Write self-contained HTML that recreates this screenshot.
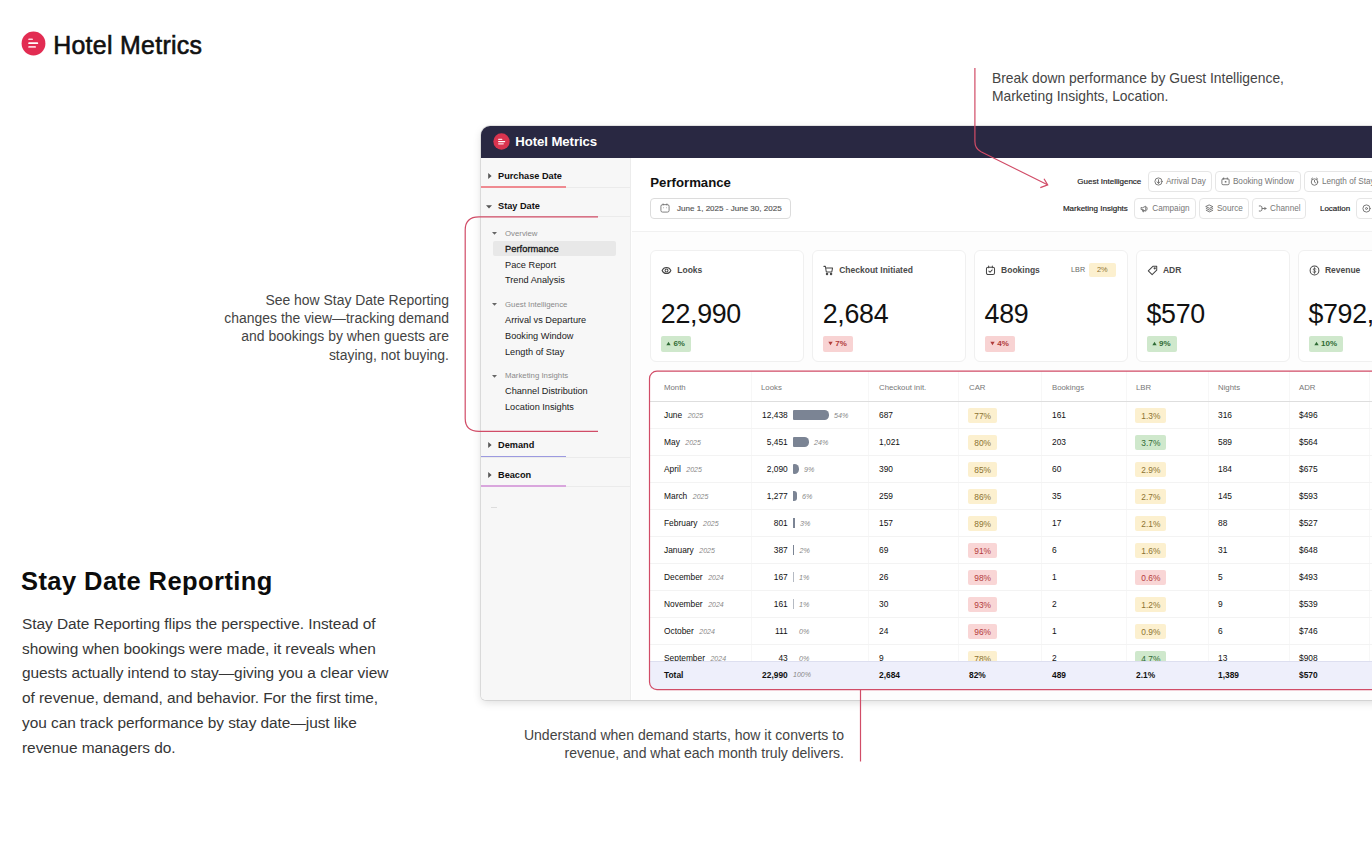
<!DOCTYPE html>
<html><head><meta charset="utf-8">
<style>
*{box-sizing:border-box;margin:0;padding:0}
html,body{width:1372px;height:858px;overflow:hidden;background:#fff}
body{font-family:"Liberation Sans",sans-serif;color:#111;position:relative}
.abs{position:absolute;white-space:nowrap}
#win{position:absolute;left:481px;top:126px;width:920px;height:574px;background:#fff;border-radius:9px 0 0 5px;box-shadow:0 3px 8px rgba(0,0,0,.13),0 0 0 1px rgba(0,0,0,.09);overflow:hidden}
#top{position:absolute;left:0;top:-1px;width:100%;height:33px;background:#292842}
#side{position:absolute;left:0;top:32px;width:150px;height:542px;background:#f7f7f7;border-right:1px solid #ececec}
#main{position:absolute;left:151px;top:32px;width:780px;height:542px;background:#fdfdfd}
.sb{position:absolute;left:17px;font-size:9.2px;font-weight:bold;color:#111;white-space:nowrap}
.sg{position:absolute;left:24px;font-size:7.8px;color:#8a8a8a;white-space:nowrap}
.si{position:absolute;left:24px;font-size:9.2px;color:#1a1a1a;white-space:nowrap}
.ul{position:absolute;left:0;height:2px;width:85px}
.hl{position:absolute;left:0;height:1px;width:149px;background:#ebebeb}
.card{position:absolute;top:92.3px;width:154px;height:111.3px;background:#fff;border:1px solid #f0f0f0;border-radius:6px}
.card .t{position:absolute;left:26.4px;top:14px;font-size:8.5px;font-weight:bold;color:#4a4a4a;white-space:nowrap}
.card .v{position:absolute;left:9.9px;top:48.2px;font-size:26.8px;color:#111;white-space:nowrap;letter-spacing:-.3px}
.bdg{position:absolute;left:10px;top:85.2px;height:15.2px;border-radius:2px;font-size:8px;font-weight:bold;padding:0 6px 0 5.5px;line-height:15.2px;white-space:nowrap}
.up{background:#cfe8cc;color:#2f6b35}
.dn{background:#f8d3d3;color:#b03a3a}
.chip{position:absolute;height:20.5px;border:1px solid #e6e6e6;border-radius:4px;background:#fff;font-size:8.2px;color:#777;line-height:20.2px;white-space:nowrap;padding-left:17.2px}
.lbl{position:absolute;font-size:8px;color:#222;white-space:nowrap;-webkit-text-stroke:.18px #222}
#tbl{position:absolute;left:169px;top:246px;width:760px;height:318px;background:#fff}
.th{position:absolute;top:12.3px;font-size:7.8px;color:#777;white-space:nowrap}
.vl{position:absolute;top:0;width:1px;height:318px;background:#f7f7f7}
.row{position:absolute;left:0;width:760px;height:27px;border-top:1px solid #f3f3f3}
.row span{position:absolute;top:8px;font-size:8.4px;color:#111;white-space:nowrap;line-height:10px}
.row i{font-size:7px;color:#888;margin-left:5.5px}
.pill{top:5.7px !important;height:15px;line-height:16.4px !important;border-radius:2px;padding:0 6.1px;font-size:8.4px;margin-left:-.8px}
.y{background:#fcf0cf;color:#8c7331 !important}
.r{background:#f9d6d6;color:#b33b3b !important}
.g{background:#cfe8cc;color:#2f6b35 !important}
.bar{position:absolute;top:8px;height:10px;background:#7b8494;border-radius:1px 3px 3px 1px}
.ctext{position:absolute;font-size:13.95px;color:#444;white-space:nowrap;line-height:18.4px;font-weight:normal}
.ci{position:absolute;left:10.2px;top:13.4px;width:11px;height:11px}
</style></head><body>

<!-- top-left logo -->
<svg class="abs" style="left:21.3px;top:31px" width="25" height="25" viewBox="0 0 25 25"><circle cx="12.5" cy="12.5" r="11.9" fill="#e22c52"/><rect x="7.2" y="7.4" width="4.8" height="1.7" rx=".85" fill="#ffd3de"/><rect x="7.2" y="11.3" width="10" height="1.7" rx=".85" fill="#fff"/><rect x="7.2" y="15.1" width="7.8" height="1.7" rx=".85" fill="#ffd3de"/></svg>
<div class="abs" id="logotxt" style="left:53.2px;top:29.6px;font-size:24.9px;line-height:30px;color:#111;-webkit-text-stroke:.6px #111;letter-spacing:.3px">Hotel Metrics</div>

<!-- left bottom heading -->
<div class="abs" id="h1" style="left:21px;top:565px;font-size:25.5px;font-weight:bold;line-height:32px;letter-spacing:.43px;color:#0c0c0c">Stay Date Reporting</div>
<div class="abs" id="para" style="left:22px;top:612px;font-size:15.45px;line-height:24.7px;color:#363636;letter-spacing:-.05px">Stay Date Reporting flips the perspective. Instead of<br>showing when bookings were made, it reveals when<br>guests actually intend to stay—giving you a clear view<br>of revenue, demand, and behavior. For the first time,<br>you can track performance by stay date—just like<br>revenue managers do.</div>

<!-- callout texts -->
<div class="ctext" id="c1" style="left:992px;top:68.7px;font-size:13.86px">Break down performance by Guest Intelligence,<br>Marketing Insights, Location.</div>
<div class="ctext" id="c2" style="right:923px;top:290.5px;text-align:right">See how Stay Date Reporting<br>changes the view—tracking demand<br>and bookings by when guests are<br>staying, not buying.</div>
<div class="ctext" id="c3" style="right:528px;top:725.6px;font-size:14.05px;text-align:right">Understand when demand starts, how it converts to<br>revenue, and what each month truly delivers.</div>

<div id="win">
 <div id="top">
  <svg class="abs" style="left:11.5px;top:8.2px" width="17" height="17" viewBox="0 0 25 25"><circle cx="12.5" cy="12.5" r="12" fill="#d9344f"/><rect x="7.4" y="8.3" width="6.5" height="1.9" rx=".9" fill="#ffd9e2"/><rect x="7.4" y="11.6" width="10.6" height="1.9" rx=".9" fill="#fff"/><rect x="7.4" y="14.9" width="8.6" height="1.9" rx=".9" fill="#ffd9e2"/></svg>
  <div class="abs" style="left:34.3px;top:8.8px;font-size:13.2px;font-weight:bold;color:#fff;line-height:16px;letter-spacing:-.08px">Hotel Metrics</div>
 </div>
 <div id="side">
  <svg class="abs" style="left:6px;top:14px" width="6" height="8" viewBox="0 0 6 8"><path d="M1.2 1L4.6 4L1.2 7Z" fill="#555"/></svg>
  <div class="sb" style="top:13px">Purchase Date</div>
  <div class="hl" style="top:28.5px"></div><div class="ul" style="top:28px;height:1.6px;background:#ef8a91"></div>
  <svg class="abs" style="left:4px;top:45.8px" width="8" height="6" viewBox="0 0 8 6"><path d="M1 1.2L4 4.6L7 1.2Z" fill="#555"/></svg>
  <div class="sb" style="top:42.8px">Stay Date</div>
  <div class="hl" style="top:58px"></div>

  <svg class="abs" style="left:10px;top:73px" width="7" height="5" viewBox="0 0 8 6"><path d="M1 1.2L4 4.6L7 1.2Z" fill="#666"/></svg>
  <div class="sg" style="top:70.5px">Overview</div>
  <div class="abs" style="left:12px;top:83.4px;width:123px;height:14.4px;background:#e8e8e8;border-radius:2px"></div>
  <div class="si" style="top:85.3px;font-size:9.4px;-webkit-text-stroke:.3px #111">Performance</div>
  <div class="si" style="top:101.8px">Pace Report</div>
  <div class="si" style="top:117.3px">Trend Analysis</div>

  <svg class="abs" style="left:10px;top:144px" width="7" height="5" viewBox="0 0 8 6"><path d="M1 1.2L4 4.6L7 1.2Z" fill="#666"/></svg>
  <div class="sg" style="top:141.5px">Guest Intelligence</div>
  <div class="si" style="top:156.5px">Arrival vs Departure</div>
  <div class="si" style="top:172.5px">Booking Window</div>
  <div class="si" style="top:188.8px">Length of Stay</div>

  <svg class="abs" style="left:10px;top:215.5px" width="7" height="5" viewBox="0 0 8 6"><path d="M1 1.2L4 4.6L7 1.2Z" fill="#666"/></svg>
  <div class="sg" style="top:213px">Marketing Insights</div>
  <div class="si" style="top:228px">Channel Distribution</div>
  <div class="si" style="top:243.5px">Location Insights</div>

  <svg class="abs" style="left:6px;top:283px" width="6" height="8" viewBox="0 0 6 8"><path d="M1.2 1L4.6 4L1.2 7Z" fill="#555"/></svg>
  <div class="sb" style="top:282px">Demand</div>
  <div class="hl" style="top:298.5px"></div><div class="ul" style="top:297.8px;height:1.7px;background:#9c9ae0"></div>
  <svg class="abs" style="left:6px;top:312.5px" width="6" height="8" viewBox="0 0 6 8"><path d="M1.2 1L4.6 4L1.2 7Z" fill="#555"/></svg>
  <div class="sb" style="top:311.5px">Beacon</div>
  <div class="hl" style="top:328px"></div><div class="ul" style="top:327.4px;height:1.7px;background:#d9a6dd"></div>
  <div class="abs" style="left:10px;top:349px;width:6px;height:1px;background:#ddd"></div>
 </div>
 <div id="main">
  <div class="abs" style="left:0;top:0;width:780px;height:74px;background:#fff;border-bottom:1px solid #f1f1f1"></div>
  <div class="abs" id="perf" style="left:18.3px;top:16.5px;font-size:13.2px;font-weight:bold;color:#111;line-height:15px">Performance</div>
  <div class="abs" style="left:18px;top:40px;width:141px;height:20.5px;border:1px solid #dcdcdc;border-radius:4px;background:#fff"></div>
  <svg class="abs" style="left:27.5px;top:45.3px" width="10" height="10" viewBox="0 0 11 11" fill="none" stroke="#666" stroke-width=".9"><rect x="1" y="1.8" width="9" height="8.2" rx="1.8"/><path d="M3.4 .6V2.6M7.6 .6V2.6M3.6 5.2H4.2M6.8 5.2H7.4"/></svg>
  <div class="abs" id="datetxt" style="left:45px;top:45.5px;font-size:8.05px;color:#555;line-height:10px;-webkit-text-stroke:.15px #555">June 1, 2025 - June 30, 2025</div>
  <div class="lbl" style="right:270.7px;top:18.5px">Guest Intelligence</div><div class="chip" style="left:515.7px;top:13.4px;width:64.3px"><svg style="position:absolute;left:5.2px;top:5px" width="9" height="9" viewBox="0 0 10 10" fill="none" stroke="#6c6c6c" stroke-width="1" stroke-linecap="round" stroke-linejoin="round"><circle cx="5" cy="5" r="4"/><path d="M5 3V7M3.3 5.4L5 7L6.7 5.4"/></svg>Arrival Day</div><div class="chip" style="left:582.7px;top:13.4px;width:86.8px"><svg style="position:absolute;left:5.2px;top:5px" width="9" height="9" viewBox="0 0 10 10" fill="none" stroke="#6c6c6c" stroke-width="1" stroke-linecap="round" stroke-linejoin="round"><rect x="1" y="2" width="8" height="6.6" rx="1.3"/><path d="M3 1V2.4M7 1V2.4"/><rect x="4.2" y="4.4" width="1.8" height="1.8" fill="#777" stroke="none"/></svg>Booking Window</div><div class="chip" style="left:671.7px;top:13.4px;width:87.0px"><svg style="position:absolute;left:5.2px;top:5px" width="9" height="9" viewBox="0 0 10 10" fill="none" stroke="#6c6c6c" stroke-width="1" stroke-linecap="round" stroke-linejoin="round"><circle cx="5" cy="5.6" r="3.6"/><path d="M5 3.8V5.7L6.2 6.4M1.4 2.4L2.8 1.2M8.6 2.4L7.2 1.2"/></svg>Length of Stay</div><div class="lbl" style="right:284.2px;top:45.6px">Marketing Insights</div><div class="chip" style="left:502.1px;top:40.2px;width:61.9px"><svg style="position:absolute;left:5.2px;top:5px" width="9" height="9" viewBox="0 0 10 10" fill="none" stroke="#6c6c6c" stroke-width="1" stroke-linecap="round" stroke-linejoin="round"><path d="M1.2 4.2V6.2H2.8L6.4 8V2.4L2.8 4.2ZM2.6 6.4L3.2 8.6H4.4L3.9 6.8M7.6 3.6Q8.6 5.2 7.6 6.8"/></svg>Campaign</div><div class="chip" style="left:566.7px;top:40.2px;width:50.3px"><svg style="position:absolute;left:5.2px;top:5px" width="9" height="9" viewBox="0 0 10 10" fill="none" stroke="#6c6c6c" stroke-width="1" stroke-linecap="round" stroke-linejoin="round"><path d="M5 1.2L8.8 3L5 4.8L1.2 3ZM1.4 5L5 6.8L8.6 5M1.4 7L5 8.8L8.6 7"/></svg>Source</div><div class="chip" style="left:619.9px;top:40.2px;width:54.2px"><svg style="position:absolute;left:5.2px;top:5px" width="9" height="9" viewBox="0 0 10 10" fill="none" stroke="#6c6c6c" stroke-width="1" stroke-linecap="round" stroke-linejoin="round"><path d="M1.4 2.2H3Q4.6 2.2 4.6 5Q4.6 7.8 3 7.8H1.4M4.6 5H8.8M7.4 3.6L8.8 5L7.4 6.4"/></svg>Channel</div><div class="lbl" style="right:61.8px;top:45.6px">Location</div><div class="chip" style="left:724.0px;top:40.2px;width:64.7px"><svg style="position:absolute;left:5.2px;top:5px" width="9" height="9" viewBox="0 0 10 10" fill="none" stroke="#6c6c6c" stroke-width="1" stroke-linecap="round" stroke-linejoin="round"><circle cx="5" cy="5" r="4"/><circle cx="5" cy="5" r="1.1"/></svg>City</div>
  <div class="card" style="left:17.9px"><svg class="ci" viewBox="0 0 12 12" fill="none" stroke="#444" stroke-width="1.1" stroke-linecap="round" stroke-linejoin="round"><path d="M1.2 6C3 1.6 9 1.6 10.8 6C9 10.4 3 10.4 1.2 6Z"/><circle cx="6" cy="6" r="1.6"/></svg><div class="t">Looks</div><div class="v">22,990</div><div class="bdg up"><svg width="5" height="5" viewBox="0 0 6 6" style="margin-right:2px"><path d="M3 .8L5.6 5.2H.4Z" fill="currentColor"/></svg>6%</div></div><div class="card" style="left:179.8px"><svg class="ci" viewBox="0 0 12 12" fill="none" stroke="#444" stroke-width="1.1" stroke-linecap="round" stroke-linejoin="round"><path d="M1 1.5H2.6L3.6 7.6H9.6L10.4 3.4H3"/><circle cx="4.4" cy="9.8" r=".8"/><circle cx="8.8" cy="9.8" r=".8"/></svg><div class="t">Checkout Initiated</div><div class="v">2,684</div><div class="bdg dn"><svg width="5" height="5" viewBox="0 0 6 6" style="margin-right:2px"><path d="M3 5.2L5.6 .8H.4Z" fill="currentColor"/></svg>7%</div></div><div class="card" style="left:341.7px"><svg class="ci" viewBox="0 0 12 12" fill="none" stroke="#444" stroke-width="1.1" stroke-linecap="round" stroke-linejoin="round"><rect x="1.6" y="2.4" width="8.8" height="8" rx="1.8"/><path d="M4 1.2V3M8 1.2V3M4.2 6.6L5.5 7.9L7.9 5.4"/></svg><div class="t">Bookings</div><div class="abs" style="left:96.2px;top:14px;font-size:7.2px;color:#666;letter-spacing:.2px">LBR</div><div class="abs" style="left:113.9px;top:11.5px;width:27.4px;height:14px;background:#fcf0cf;border-radius:2px;font-size:7.4px;color:#8c7331;text-align:center;line-height:14px">2%</div><div class="v">489</div><div class="bdg dn"><svg width="5" height="5" viewBox="0 0 6 6" style="margin-right:2px"><path d="M3 5.2L5.6 .8H.4Z" fill="currentColor"/></svg>4%</div></div><div class="card" style="left:503.6px"><svg class="ci" viewBox="0 0 12 12" fill="none" stroke="#444" stroke-width="1.1" stroke-linecap="round" stroke-linejoin="round"><path d="M6.4 1.4H10.6V5.6L5.6 10.6L1.4 6.4Z"/><circle cx="8.4" cy="3.6" r=".7"/></svg><div class="t">ADR</div><div class="v">$570</div><div class="bdg up"><svg width="5" height="5" viewBox="0 0 6 6" style="margin-right:2px"><path d="M3 .8L5.6 5.2H.4Z" fill="currentColor"/></svg>9%</div></div><div class="card" style="left:665.5px"><svg class="ci" viewBox="0 0 12 12" fill="none" stroke="#444" stroke-width="1.1" stroke-linecap="round" stroke-linejoin="round"><circle cx="6" cy="6" r="4.8"/><path d="M7.6 4.4Q6 3.2 4.8 4.2Q4 5.4 6 6Q8 6.6 7.2 7.8Q6 8.8 4.4 7.6M6 2.8V9.2" stroke-width=".8"/></svg><div class="t">Revenue</div><div class="v">$792,</div><div class="bdg up"><svg width="5" height="5" viewBox="0 0 6 6" style="margin-right:2px"><path d="M3 .8L5.6 5.2H.4Z" fill="currentColor"/></svg>10%</div></div>
  <div id="tbl" style="left:18px;top:213px"><div class="vl" style="left:101px"></div><div class="vl" style="left:218px"></div><div class="vl" style="left:308px"></div><div class="vl" style="left:391px"></div><div class="vl" style="left:476px"></div><div class="vl" style="left:558px"></div><div class="vl" style="left:639px"></div><div class="vl" style="left:719px"></div><div class="th" style="left:14px">Month</div><div class="th" style="left:111px">Looks</div><div class="th" style="left:229px">Checkout init.</div><div class="th" style="left:319px">CAR</div><div class="th" style="left:402px">Bookings</div><div class="th" style="left:486px">LBR</div><div class="th" style="left:568px">Nights</div><div class="th" style="left:649px">ADR</div><div class="row" style="top:30px;border-top-color:#dedede"><span style="left:14px">June<i>2025</i></span><span style="right:622.3px">12,438</span><div class="bar" style="left:143px;width:36px;border-radius:1px 4.5px 4.5px 1px;background:#7b8494"></div><span style="left:184px;top:9px;font-size:7.2px;color:#888;font-style:italic">54%</span><span style="left:229px">687</span><span class="pill y" style="left:319px">77%</span><span style="left:402px">161</span><span class="pill y" style="left:486px">1.3%</span><span style="left:568px">316</span><span style="left:649px">$496</span></div><div class="row" style="top:57px"><span style="left:14px">May<i>2025</i></span><span style="right:622.3px">5,451</span><div class="bar" style="left:143px;width:16px;border-radius:1px 4.5px 4.5px 1px;background:#7b8494"></div><span style="left:164px;top:9px;font-size:7.2px;color:#888;font-style:italic">24%</span><span style="left:229px">1,021</span><span class="pill y" style="left:319px">80%</span><span style="left:402px">203</span><span class="pill g" style="left:486px">3.7%</span><span style="left:568px">589</span><span style="left:649px">$564</span></div><div class="row" style="top:84px"><span style="left:14px">April<i>2025</i></span><span style="right:622.3px">2,090</span><div class="bar" style="left:143px;width:6px;border-radius:1px 4.5px 4.5px 1px;background:#7b8494"></div><span style="left:154px;top:9px;font-size:7.2px;color:#888;font-style:italic">9%</span><span style="left:229px">390</span><span class="pill y" style="left:319px">85%</span><span style="left:402px">60</span><span class="pill y" style="left:486px">2.9%</span><span style="left:568px">184</span><span style="left:649px">$675</span></div><div class="row" style="top:111px"><span style="left:14px">March<i>2025</i></span><span style="right:622.3px">1,277</span><div class="bar" style="left:143px;width:4px;border-radius:0 3px 3px 0;background:#7b8494"></div><span style="left:152px;top:9px;font-size:7.2px;color:#888;font-style:italic">6%</span><span style="left:229px">259</span><span class="pill y" style="left:319px">86%</span><span style="left:402px">35</span><span class="pill y" style="left:486px">2.7%</span><span style="left:568px">145</span><span style="left:649px">$593</span></div><div class="row" style="top:138px"><span style="left:14px">February<i>2025</i></span><span style="right:622.3px">801</span><div class="bar" style="left:143px;width:2px;border-radius:0;background:#7b8494"></div><span style="left:150px;top:9px;font-size:7.2px;color:#888;font-style:italic">3%</span><span style="left:229px">157</span><span class="pill y" style="left:319px">89%</span><span style="left:402px">17</span><span class="pill y" style="left:486px">2.1%</span><span style="left:568px">88</span><span style="left:649px">$527</span></div><div class="row" style="top:165px"><span style="left:14px">January<i>2025</i></span><span style="right:622.3px">387</span><div class="bar" style="left:143px;width:1.4px;border-radius:0;background:#7b8494"></div><span style="left:149.39999999999998px;top:9px;font-size:7.2px;color:#888;font-style:italic">2%</span><span style="left:229px">69</span><span class="pill r" style="left:319px">91%</span><span style="left:402px">6</span><span class="pill y" style="left:486px">1.6%</span><span style="left:568px">31</span><span style="left:649px">$648</span></div><div class="row" style="top:192px"><span style="left:14px">December<i>2024</i></span><span style="right:622.3px">167</span><div class="bar" style="left:143px;width:1px;border-radius:0;background:#b5bac3"></div><span style="left:149px;top:9px;font-size:7.2px;color:#888;font-style:italic">1%</span><span style="left:229px">26</span><span class="pill r" style="left:319px">98%</span><span style="left:402px">1</span><span class="pill r" style="left:486px">0.6%</span><span style="left:568px">5</span><span style="left:649px">$493</span></div><div class="row" style="top:219px"><span style="left:14px">November<i>2024</i></span><span style="right:622.3px">161</span><div class="bar" style="left:143px;width:1px;border-radius:0;background:#b5bac3"></div><span style="left:149px;top:9px;font-size:7.2px;color:#888;font-style:italic">1%</span><span style="left:229px">30</span><span class="pill r" style="left:319px">93%</span><span style="left:402px">2</span><span class="pill y" style="left:486px">1.2%</span><span style="left:568px">9</span><span style="left:649px">$539</span></div><div class="row" style="top:246px"><span style="left:14px">October<i>2024</i></span><span style="right:622.3px">111</span><span style="left:149px;top:9px;font-size:7.2px;color:#888;font-style:italic">0%</span><span style="left:229px">24</span><span class="pill r" style="left:319px">96%</span><span style="left:402px">1</span><span class="pill y" style="left:486px">0.9%</span><span style="left:568px">6</span><span style="left:649px">$746</span></div><div class="row" style="top:273px"><span style="left:14px">September<i>2024</i></span><span style="right:622.3px">43</span><span style="left:149px;top:9px;font-size:7.2px;color:#888;font-style:italic">0%</span><span style="left:229px">9</span><span class="pill y" style="left:319px">78%</span><span style="left:402px">2</span><span class="pill g" style="left:486px">4.7%</span><span style="left:568px">13</span><span style="left:649px">$908</span></div><div class="row tot" style="top:290px;height:28px;background:#eeeffb;border-top:1px solid #dddff0"><span style="left:14px;top:7.5px;font-weight:bold">Total</span><span style="left:229px;top:7.5px;font-weight:bold">2,684</span><span style="left:319px;top:7.5px;font-weight:bold">82%</span><span style="left:402px;top:7.5px;font-weight:bold">489</span><span style="left:486px;top:7.5px;font-weight:bold">2.1%</span><span style="left:568px;top:7.5px;font-weight:bold">1,389</span><span style="left:649px;top:7.5px;font-weight:bold">$570</span><span style="right:622.3px;top:7.5px;font-weight:bold">22,990</span><span style="left:143px;top:8px;font-size:7px;color:#888;font-style:italic">100%</span></div></div>
 </div>
</div>

<!-- red callouts -->
<svg class="abs" style="left:0;top:0;pointer-events:none" width="1372" height="858" viewBox="0 0 1372 858" fill="none" stroke="#d14c67" stroke-width="1.2">
 <path d="M598 216.8H479Q465.2 216.8 465.2 230V418.5Q465.2 431.3 479 431.3H598"/>
 <path d="M974.9 68V141.5Q974.9 148.5 981 151.8L1047.5 184.8"/>
 <path d="M1040.3 187.6L1047.7 184.9L1044 178.8"/>
 <rect x="649.5" y="371.2" width="740" height="318.4" rx="7.5"/>
 <path d="M860.5 689.5V761.5"/>
</svg>
</body></html>
